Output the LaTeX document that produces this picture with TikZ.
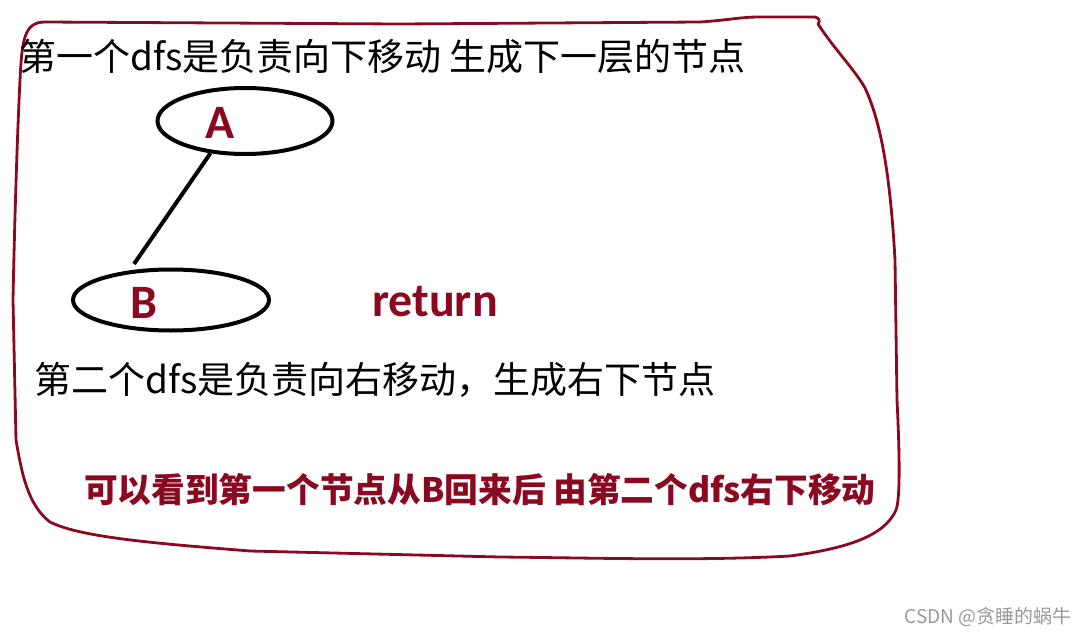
\documentclass[tikz,border=0pt]{standalone}
\usepackage{fontspec}
\newfontfamily\cjk{Noto Sans CJK SC}
\newfontfamily\latin{Carlito}
\usetikzlibrary{shapes.geometric}
\definecolor{darkred}{RGB}{138,8,32}
\tikzset{
	treenode/.style={ellipse,draw,line width=4pt,inner sep=0pt},
	letter/.style={text=darkred,font=\latin\bfseries\fontsize{48}{48}\selectfont},
	note/.style={anchor=west,inner sep=0pt,font=\cjk\fontsize{37}{37}\selectfont},
}
\begin{document}
\begin{tikzpicture}[x=1pt,y=-1pt]
	\useasboundingbox (0,0) rectangle (1088,637);

	% hand drawn frame
	\draw[darkred,line width=2.8pt,line join=round]
		(45,22) -- (400,24) -- (700,22) .. controls (730,20) and (740,17) .. (760,17)
		-- (815,17) .. controls (820,18) and (820,22) .. (818,24)
		.. controls (835,50) and (855,70) .. (865,88)
		.. controls (880,120) and (890,170) .. (895,260)
		-- (897,400) .. controls (900,460) and (900,500) .. (896,510)
		.. controls (885,535) and (850,548) .. (790,556)
		.. controls (700,561) and (600,558) .. (500,557)
		-- (250,551) .. controls (150,543) and (80,537) .. (50,522)
		.. controls (28,505) and (22,475) .. (16,440)
		-- (13,300) .. controls (15,200) and (18,120) .. (20,80)
		.. controls (22,40) and (24,22) .. (45,22);

	\node[note] (line1) at (19,57) {第一个dfs是负责向下移动 生成下一层的节点};

	\node[treenode,minimum width=175pt,minimum height=66pt] (A) at (245,121) {};
	\node[letter] (labelA) at (220,123) {A};
	\node[treenode,minimum width=196pt,minimum height=61pt] (B) at (171,300) {};
	\node[letter] (labelB) at (144,303) {B};
	\coordinate (btop) at (134,264);
	\draw[line width=4pt] (A.223) -- (btop);

	\node[letter,text=darkred] (ret) at (435,302) {return};

	\node[note] (line2) at (34,380) {第二个dfs是负责向右移动，生成右下节点};

	\node[note,text=darkred,font=\cjk\bfseries\fontsize{33.7}{34}\selectfont] (line3) at (84,490)
		{可以看到第一个节点从B回来后 由第二个dfs右下移动};

	\node[anchor=east,inner sep=0pt,text=gray!80,font=\cjk\fontsize{19}{19}\selectfont] (mark) at (1072,617)
		{CSDN @贪睡的蜗牛};
\end{tikzpicture}
\end{document}
